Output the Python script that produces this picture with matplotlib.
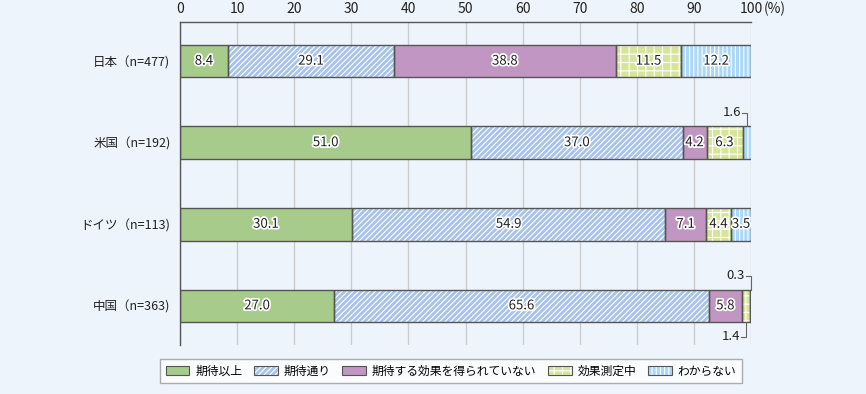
import numpy as np
import matplotlib.pyplot as plt
import matplotlib.patheffects as pe
from matplotlib.patches import Patch
from matplotlib.legend_handler import HandlerTuple

plt.rcParams['font.family'] = ['Noto Sans CJK JP', 'DejaVu Sans']
plt.rcParams['hatch.linewidth'] = 0.8

countries = ['日本（n=477)', '米国（n=192)', 'ドイツ（n=113)', '中国（n=363)']
series = ['期待以上', '期待通り', '期待する効果を得られていない', '効果測定中', 'わからない']
values = [
    [8.4, 51.0, 30.1, 27.0],
    [29.1, 37.0, 54.9, 65.6],
    [38.8, 4.2, 7.1, 5.8],
    [11.5, 6.3, 4.4, 1.4],
    [12.2, 1.6, 3.5, 0.3],
]
ticks = [0, 10, 20, 30, 40, 50, 60, 70, 80, 90, 100]

colors = ['#a7cb8b', '#a8c3ea', '#c296c3', '#d6e59a', '#acd8f8']
hatches = [None, '//////', None, '++', '||||']
bg = '#eef4fc'
edge = '#555555'

fig = plt.figure(figsize=(8.66, 3.94), dpi=100, facecolor=bg)
ax = fig.add_axes([0.2079, 0.1244, 0.6594, 0.8198], facecolor=bg)

y = np.arange(len(countries))
halo = [pe.withStroke(linewidth=2.5, foreground='white')]
left = np.zeros(len(countries))
for i, name in enumerate(series):
    vals = np.array(values[i])
    # fill + white hatch, then outline on top
    ax.barh(y, vals, left=left, height=0.4, color=colors[i], edgecolor='white',
            hatch=hatches[i], linewidth=0, zorder=2)
    ax.barh(y, vals, left=left, height=0.4, fill=False, edgecolor=edge,
            linewidth=1, zorder=3)
    for j, v in enumerate(vals):
        if v < 2:
            continue
        ax.text(left[j] + v / 2, y[j], f'{v:.1f}', ha='center', va='center',
                fontsize=9.5, color='#222222', path_effects=halo, zorder=4)
    left += vals

# small segments labelled outside with leader lines
def callout(val, xc, row, above):
    yb = row - 0.2 if above else row + 0.2
    yt = row - 0.37 if above else row + 0.38
    ax.plot([xc, xc, xc - 0.9], [yb, yt, yt], color='#666666', lw=0.8,
            clip_on=False, zorder=4)
    ax.text(xc - 1.0, yt, f'{val:.1f}', ha='right', va='center', fontsize=9.5,
            color='#222222')

cum = np.cumsum(values, axis=0)
callout(values[4][1], cum[3][1] + values[4][1] / 2, 1, True)
callout(values[4][3], cum[3][3] + values[4][3] / 2, 3, True)
callout(values[3][3], cum[2][3] + values[3][3] / 2, 3, False)

ax.set_xlim(0, 100)
ax.set_ylim(3.48, -0.48)
ax.set_yticks(y)
ax.set_yticklabels(countries, fontsize=9)
ax.set_xticks(ticks)
ax.xaxis.tick_top()
ax.tick_params(axis='x', length=0, labelsize=10, pad=4, colors='#222222')
ax.tick_params(axis='y', length=0, pad=7, colors='#222222')
ax.grid(axis='x', color='#cccccc', linewidth=1, zorder=0)
ax.set_axisbelow(True)
for s in ['right', 'bottom']:
    ax.spines[s].set_visible(False)
for s in ['top', 'left']:
    ax.spines[s].set_color(edge)
    ax.spines[s].set_linewidth(1)
ax.annotate('(%)', xy=(102.2, 1), xycoords=('data', 'axes fraction'),
            xytext=(0, 4), textcoords='offset points', fontsize=10,
            va='bottom', ha='left', color='#222222')

handles = [(Patch(facecolor=colors[i], edgecolor='white', hatch=hatches[i], linewidth=0),
            Patch(fill=False, edgecolor=edge, linewidth=0.8))
           for i in range(len(series))]
leg = fig.legend(handles, series, loc='center', bbox_to_anchor=(0.521, 0.058),
                 ncol=5, fontsize=8.5, frameon=True, fancybox=False,
                 handler_map={tuple: HandlerTuple(ndivide=1, pad=0)},
                 handlelength=2.0, handleheight=0.9, columnspacing=1.0,
                 handletextpad=0.5, borderpad=0.45)
leg.get_frame().set_edgecolor('#999999')
leg.get_frame().set_facecolor('white')

fig.savefig('out.png', dpi=100, facecolor=bg)
